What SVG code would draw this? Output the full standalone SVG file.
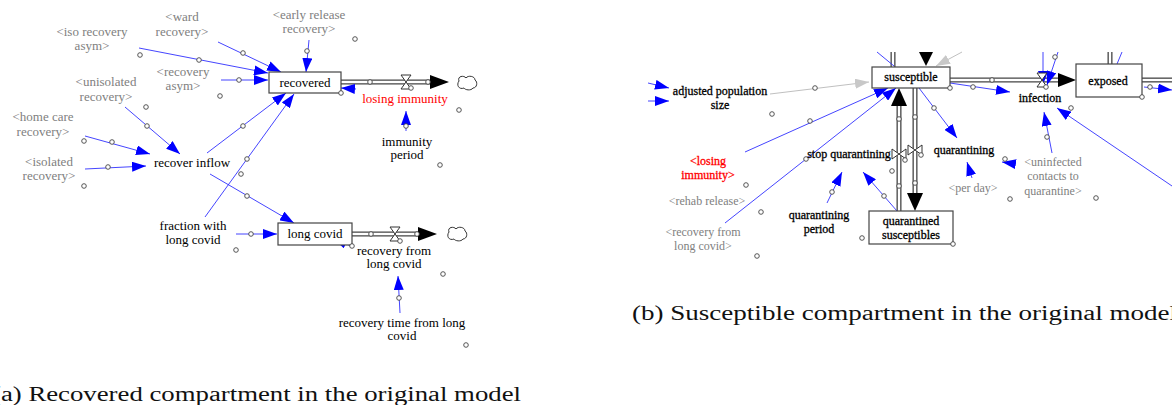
<svg xmlns="http://www.w3.org/2000/svg" width="1172" height="405" viewBox="0 0 1172 405">
  <style>
    text { font-family: "Liberation Serif", "Times New Roman", serif; font-size: 13px; text-anchor: middle; }
    .blk { fill: #000; }
    .gry { fill: #808080; }
    .red { fill: #ff0000; }
    .b text { font-size: 12px; }
    .b .blk { stroke: #000; stroke-width: 0.3; }
    .b .red { stroke: #ff0000; stroke-width: 0.3; }
    .cap { font-size: 20px; text-anchor: start; fill: #111; }
    .box { fill: #fff; stroke: #444; stroke-width: 1.2; }
    .link { fill: none; stroke: #3030ff; stroke-width: 0.9; }
    .glink { fill: none; stroke: #c0c0c0; stroke-width: 1; }
    .pipeo { fill: none; stroke: #444; stroke-width: 5; }
    .pipei { fill: none; stroke: #fff; stroke-width: 2.4; }
    .dot { fill: #fff; stroke: #444; stroke-width: 0.9; }
    .valve { fill: #fff; stroke: #333; stroke-width: 1; }
    .cloud { fill: #fff; stroke: #333; stroke-width: 1; }
    .head { fill: #000; }
  </style>
  <defs>
    <marker id="ah" viewBox="0 0 14 10" refX="14" refY="5" markerWidth="14" markerHeight="10" orient="auto" markerUnits="userSpaceOnUse">
      <path d="M0,0 L14,5 L0,10 z" fill="#0000ff"/>
    </marker>
    <marker id="gh" viewBox="0 0 14 10" refX="14" refY="5" markerWidth="14" markerHeight="10" orient="auto" markerUnits="userSpaceOnUse">
      <path d="M0,0 L14,5 L0,10 z" fill="#c8c8c8"/>
    </marker>
    <circle id="d" r="2.3"/>
    <path id="cl" d="M-8,-2 C-10,-7 -3,-8 -1,-5 C1,-8 8,-7 8,-3 C11,-1 10,5 6,5 C4,8 -2,7 -3,5 C-8,7 -11,2 -8,-2 z"/>
    <path id="hv" d="M-5,-7 L5,-7 L-5,7 L5,7 z"/>
    <path id="vv" d="M-7,-5 L-7,5 L7,-5 L7,5 z"/>
  </defs>

  <!-- ===== Recovered compartment ===== -->
  <g id="a-connectors">
    <!-- flows -->
    <path class="pipeo" d="M341,82 H432"/><path class="pipei" d="M341,82 H432"/>
    <polygon class="head" points="430,75 449,82 430,89"/>
    <path class="pipeo" d="M352,234 H420"/><path class="pipei" d="M352,234 H420"/>
    <polygon class="head" points="418,227 437,234 418,241"/>
    <!-- information links -->
    <path class="link" marker-end="url(#ah)" d="M139,48 L268,73"/>
    <path class="link" marker-end="url(#ah)" d="M218,42 L281,72"/>
    <path class="link" marker-end="url(#ah)" d="M221,80 L268,80"/>
    <path class="link" marker-end="url(#ah)" d="M309,40 L306,72"/>
    <path class="link" marker-end="url(#ah)" d="M207,153 L286,93"/>
    <path class="link" marker-end="url(#ah)" d="M205,217 L294,94"/>
    <path class="link" marker-end="url(#ah)" d="M125,107 L180,154"/>
    <path class="link" marker-end="url(#ah)" d="M85,136 L150,154"/>
    <path class="link" marker-end="url(#ah)" d="M85,169 L146,166"/>
    <path class="link" marker-end="url(#ah)" d="M210,174 L294,223"/>
    <path class="link" marker-end="url(#ah)" d="M236,234 L277,234"/>
    <path class="link" marker-end="url(#ah)" d="M400,313 L398,276"/>
    <path class="link" marker-end="url(#ah)" d="M406,131 L406,111"/>
    <path class="link" marker-end="url(#ah)" d="M356,89 L341,88"/>
    <path class="link" marker-end="url(#ah)" d="M351,246 L333,238"/>
    <!-- link handles -->
    <g class="dot">
      <use href="#d" x="199" y="60"/><use href="#d" x="243" y="53"/><use href="#d" x="239" y="80"/>
      <use href="#d" x="307" y="51"/><use href="#d" x="243" y="126"/><use href="#d" x="247" y="159"/>
      <use href="#d" x="147" y="126"/><use href="#d" x="112" y="142"/><use href="#d" x="108" y="167"/>
      <use href="#d" x="247" y="196"/><use href="#d" x="251" y="234"/><use href="#d" x="399" y="298"/>
      <use href="#d" x="406" y="126"/><use href="#d" x="370" y="82"/><use href="#d" x="428" y="82"/>
      <use href="#d" x="371" y="234"/><use href="#d" x="417" y="234"/>
    </g>
  </g>

  <g id="a-recovered"><rect class="box" x="269" y="72" width="72" height="21"/><text class="blk" x="305" y="87">recovered</text><use class="dot" href="#d" x="341" y="93"/></g>
  <g id="a-losing-immunity"><use class="valve" href="#hv" x="406" y="82"/><use class="dot" href="#d" x="411" y="88"/><text class="red" x="405" y="103">losing immunity</text></g>
  <g id="a-sink1"><use class="cloud" href="#cl" x="467" y="83"/></g>
  <g id="a-immunity-period"><text class="blk" x="407" y="146">immunity</text><text class="blk" x="407" y="159">period</text></g>
  <g id="a-long-covid"><rect class="box" x="278" y="223" width="74" height="22"/><text class="blk" x="315" y="238">long covid</text><use class="dot" href="#d" x="352" y="246"/></g>
  <g id="a-recovery-from-long-covid"><use class="valve" href="#hv" x="395" y="234"/><use class="dot" href="#d" x="400" y="241"/><text class="blk" x="394" y="255">recovery from</text><text class="blk" x="394" y="268">long covid</text></g>
  <g id="a-sink2"><use class="cloud" href="#cl" x="457" y="234"/></g>
  <g id="a-recovery-time"><text class="blk" x="402" y="327">recovery time from long</text><text class="blk" x="402" y="340">covid</text></g>
  <g id="a-recover-inflow"><text class="blk" x="192" y="167">recover inflow</text></g>
  <g id="a-fraction"><text class="blk" x="193" y="230">fraction with</text><text class="blk" x="193" y="244">long covid</text></g>
  <g id="a-iso-recovery-asym"><text class="gry" x="92" y="36">&lt;iso recovery</text><text class="gry" x="92" y="50">asym&gt;</text></g>
  <g id="a-ward-recovery"><text class="gry" x="182" y="21">&lt;ward</text><text class="gry" x="182" y="36">recovery&gt;</text></g>
  <g id="a-early-release"><text class="gry" x="309" y="19">&lt;early release</text><text class="gry" x="309" y="33">recovery&gt;</text></g>
  <g id="a-recovery-asym"><text class="gry" x="183" y="76">&lt;recovery</text><text class="gry" x="183" y="90">asym&gt;</text></g>
  <g id="a-unisolated"><text class="gry" x="106" y="86">&lt;unisolated</text><text class="gry" x="106" y="101">recovery&gt;</text></g>
  <g id="a-home-care"><text class="gry" x="43" y="121">&lt;home care</text><text class="gry" x="43" y="136">recovery&gt;</text></g>
  <g id="a-isolated"><text class="gry" x="49" y="166">&lt;isolated</text><text class="gry" x="49" y="180">recovery&gt;</text></g>
  <g id="a-label-handles" class="dot">
    <use href="#d" x="140" y="55"/><use href="#d" x="220" y="96"/><use href="#d" x="146" y="107"/>
    <use href="#d" x="84" y="141"/><use href="#d" x="84" y="186"/><use href="#d" x="355" y="39"/>
    <use href="#d" x="459" y="110"/><use href="#d" x="440" y="165"/><use href="#d" x="241" y="174"/>
    <use href="#d" x="236" y="250"/><use href="#d" x="443" y="274"/><use href="#d" x="466" y="345"/>
  </g>

  <!-- ===== Susceptible compartment ===== -->
  <g class="b">
  <g id="b-connectors">
    <!-- flows -->
    <path class="pipeo" d="M893,52 V67"/><path class="pipei" d="M893,52 V67"/>
    <polygon class="head" points="919,52 933,52 926,66"/>
    <path class="pipeo" d="M950,80 H1060"/><path class="pipei" d="M950,80 H1060"/>
    <polygon class="head" points="1058,73 1076,80 1058,87"/>
    <path class="pipeo" d="M899,211 V104"/><path class="pipei" d="M899,211 V104"/>
    <polygon class="head" points="891,106 899,88 907,106"/>
    <path class="pipeo" d="M915,88 V195"/><path class="pipei" d="M915,88 V195"/>
    <polygon class="head" points="907,193 915,211 923,193"/>
    <path class="pipeo" d="M1110,52 V64"/><path class="pipei" d="M1110,52 V64"/>
    <path class="pipeo" d="M1142,80 H1172"/><path class="pipei" d="M1142,80 H1172"/>
    <!-- information links -->
    <path class="link" marker-end="url(#ah)" d="M648,83 L669,88"/>
    <path class="link" marker-end="url(#ah)" d="M648,101 L669,101"/>
    <path class="glink" marker-end="url(#gh)" d="M770,94 L869,82"/>
    <path class="glink" marker-end="url(#gh)" d="M962,52 L936,66"/>
    <path class="link" d="M877,52 L894,66"/>
    <path class="link" marker-end="url(#ah)" d="M745,152 L888,88"/>
    <path class="link" marker-end="url(#ah)" d="M725,223 L896,88"/>
    <path class="link" marker-end="url(#ah)" d="M827,203 L842,172"/>
    <path class="link" marker-end="url(#ah)" d="M897,211 L863,172"/>
    <path class="link" marker-end="url(#ah)" d="M919,88 L957,138"/>
    <path class="link" marker-end="url(#ah)" d="M950,83 L1010,92"/>
    <path class="link" marker-end="url(#ah)" d="M1043,52 L1043,85"/>
    <path class="link" marker-end="url(#ah)" d="M1058,52 L1047,85"/>
    <path class="link" marker-end="url(#ah)" d="M1172,186 L1057,108"/>
    <path class="link" marker-end="url(#ah)" d="M1052,153 L1044,112"/>
    <path class="link" marker-end="url(#ah)" d="M1015,164 L1002,162"/>
    <path class="link" marker-end="url(#ah)" d="M972,178 L967,162"/>
    <path class="link" d="M1122,52 L1117,64"/>
    <path class="link" marker-end="url(#ah)" d="M1144,87 L1172,90"/>
    <!-- link handles -->
    <g class="dot">
      <use href="#d" x="815" y="88"/><use href="#d" x="810" y="121"/><use href="#d" x="806" y="159"/>
      <use href="#d" x="832" y="192"/><use href="#d" x="884" y="196"/><use href="#d" x="934" y="108"/>
      <use href="#d" x="973" y="87"/><use href="#d" x="1055" y="57"/><use href="#d" x="1047" y="137"/>
      <use href="#d" x="1005" y="159"/><use href="#d" x="1150" y="87"/><use href="#d" x="992" y="80"/>
      <use href="#d" x="899" y="119"/><use href="#d" x="899" y="186"/><use href="#d" x="915" y="117"/>
      <use href="#d" x="915" y="183"/>
    </g>
  </g>

  <g id="b-susceptible"><rect class="box" x="872" y="67" width="78" height="21"/><text class="blk" x="911" y="81">susceptible</text><use class="dot" href="#d" x="950" y="88"/></g>
  <g id="b-exposed"><rect class="box" x="1076" y="64" width="66" height="33"/><text class="blk" x="1108" y="85">exposed</text><use class="dot" href="#d" x="1142" y="97"/></g>
  <g id="b-quarantined-susceptibles"><rect class="box" x="869" y="211" width="84" height="33"/><text class="blk" x="911" y="225">quarantined</text><text class="blk" x="911" y="239">susceptibles</text><use class="dot" href="#d" x="953" y="244"/></g>
  <g id="b-infection"><use class="valve" href="#hv" x="1042" y="80"/><use class="dot" href="#d" x="1046" y="87"/><text class="blk" x="1040" y="102">infection</text></g>
  <g id="b-stop-quarantining"><use class="valve" href="#vv" x="899" y="154"/><use class="dot" href="#d" x="905" y="160"/><text class="blk" x="849" y="158">stop quarantining</text></g>
  <g id="b-quarantining"><use class="valve" href="#vv" x="915" y="150"/><use class="dot" href="#d" x="921" y="155"/><text class="blk" x="964" y="154">quarantining</text></g>
  <g id="b-adjusted-population"><text class="blk" x="720" y="95">adjusted population</text><text class="blk" x="720" y="109">size</text></g>
  <g id="b-losing-immunity"><text class="red" x="708" y="165">&lt;losing</text><text class="red" x="708" y="179">immunity&gt;</text></g>
  <g id="b-rehab-release"><text class="gry" x="707" y="205">&lt;rehab release&gt;</text></g>
  <g id="b-recovery-from-long-covid"><text class="gry" x="703" y="236">&lt;recovery from</text><text class="gry" x="703" y="250">long covid&gt;</text></g>
  <g id="b-quarantining-period"><text class="blk" x="819" y="219">quarantining</text><text class="blk" x="819" y="233">period</text></g>
  <g id="b-per-day"><text class="gry" x="973" y="192">&lt;per day&gt;</text></g>
  <g id="b-uninfected"><text class="gry" x="1053" y="166">&lt;uninfected</text><text class="gry" x="1053" y="180">contacts to</text><text class="gry" x="1053" y="195">quarantine&gt;</text></g>
  <g id="b-label-handles" class="dot">
    <use href="#d" x="772" y="114"/><use href="#d" x="746" y="185"/><use href="#d" x="761" y="212"/>
    <use href="#d" x="757" y="256"/><use href="#d" x="862" y="238"/><use href="#d" x="892" y="171"/>
    <use href="#d" x="1010" y="199"/><use href="#d" x="1096" y="198"/><use href="#d" x="1071" y="108"/>
  </g>
  </g>

  <!-- captions -->
  <text class="cap" x="632" y="320" textLength="545" lengthAdjust="spacingAndGlyphs">(b) Susceptible compartment in the original model</text>
  <text class="cap" x="-8" y="401" textLength="529" lengthAdjust="spacingAndGlyphs">(a) Recovered compartment in the original model</text>
</svg>
